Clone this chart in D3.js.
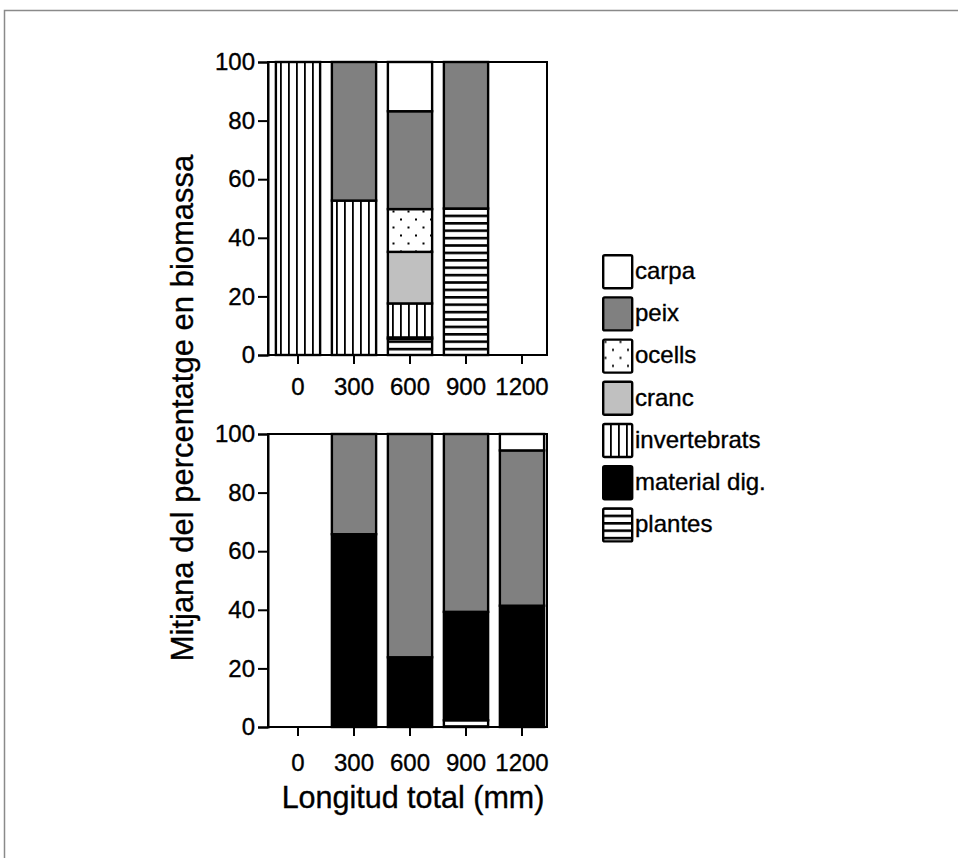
<!DOCTYPE html>
<html>
<head>
<meta charset="utf-8">
<script src="https://cdn.jsdelivr.net/npm/d3@7"></script>
<style>
  html, body { margin: 0; padding: 0; background: #fff; }
  svg { display: block; font-family: "Liberation Sans", Arial, sans-serif; }
  .lbl { stroke: #000; stroke-width: 0.35px; fill: #000; }
</style>
</head>
<body>
<svg id="chart" width="958" height="858"></svg>
<script>
// Length classes (mm)
const categories = ["0", "300", "600", "900", "1200"];

// Diet components, bottom of the stack first
const stackKeys = ["plantes", "material", "invertebrats", "cranc", "ocells", "peix", "carpa"];

// Legend order (top to bottom) and labels
const legendKeys = ["carpa", "peix", "ocells", "cranc", "invertebrats", "material", "plantes"];
const legendLabels = ["carpa", "peix", "ocells", "cranc", "invertebrats", "material dig.", "plantes"];

// Upper panel: mean biomass percentage per length class
const topCarpa        = [0, 0,    16.8, 0,  0];
const topPeix         = [0, 47.3, 33.4, 50, 0];
const topOcells       = [0, 0,    14.6, 0,  0];
const topCranc        = [0, 0,    17.6, 0,  0];
const topInvertebrats = [100, 52.7, 11.6, 0, 0];
const topMaterial     = [0, 0,    0.5,  0,  0];
const topPlantes      = [0, 0,    5.5,  50, 0];

// Lower panel
const botCarpa        = [0, 0,    0,    0,    5.6];
const botPeix         = [0, 34.2, 76.2, 60.7, 53.0];
const botOcells       = [0, 0,    0,    0,    0];
const botCranc        = [0, 0,    0,    0,    0];
const botInvertebrats = [0, 0,    0,    0,    0];
const botMaterial     = [0, 65.8, 23.8, 37.0, 41.4];
const botPlantes      = [0, 0,    0,    2.3,  0];

const yTicks = [0, 20, 40, 60, 80, 100];

function buildRows(series) {
  return categories.map((c, i) => {
    const row = { cat: c };
    stackKeys.forEach(k => { row[k] = series[k][i]; });
    return row;
  });
}

const topRows = buildRows({
  carpa: topCarpa, peix: topPeix, ocells: topOcells, cranc: topCranc,
  invertebrats: topInvertebrats, material: topMaterial, plantes: topPlantes
});
const botRows = buildRows({
  carpa: botCarpa, peix: botPeix, ocells: botOcells, cranc: botCranc,
  invertebrats: botInvertebrats, material: botMaterial, plantes: botPlantes
});

const svg = d3.select("#chart");

// Outer border
svg.append("rect")
  .attr("x", 4.5).attr("y", 10.5)
  .attr("width", 1200).attr("height", 1200)
  .attr("fill", "none").attr("stroke", "#8a8a8a").attr("stroke-width", 1.5);

// Fill patterns
const defs = svg.append("defs");

const pInv = defs.append("pattern").attr("id", "pat-invertebrats")
  .attr("patternUnits", "userSpaceOnUse").attr("width", 8).attr("height", 8);
pInv.append("rect").attr("width", 8).attr("height", 8).attr("fill", "#fff");
pInv.append("rect").attr("x", 0).attr("y", 0).attr("width", 1.8).attr("height", 8).attr("fill", "#000");

const pPl = defs.append("pattern").attr("id", "pat-plantes")
  .attr("patternUnits", "userSpaceOnUse").attr("width", 8).attr("height", 7.4);
pPl.append("rect").attr("width", 8).attr("height", 7.4).attr("fill", "#fff");
pPl.append("rect").attr("x", 0).attr("y", 0).attr("width", 8).attr("height", 2.6).attr("fill", "#000");

const pOc = defs.append("pattern").attr("id", "pat-ocells")
  .attr("patternUnits", "userSpaceOnUse").attr("width", 15).attr("height", 16);
pOc.append("rect").attr("width", 15).attr("height", 16).attr("fill", "#fff");
pOc.append("rect").attr("x", 2.5).attr("y", 2.5).attr("width", 2).attr("height", 2).attr("fill", "#000");
pOc.append("rect").attr("x", 10).attr("y", 10.5).attr("width", 2).attr("height", 2).attr("fill", "#000");

const fills = {
  carpa: "#ffffff",
  peix: "#808080",
  ocells: "url(#pat-ocells)",
  cranc: "#c0c0c0",
  invertebrats: "url(#pat-invertebrats)",
  material: "#000000",
  plantes: "url(#pat-plantes)"
};

const x = d3.scaleBand()
  .domain(categories)
  .range([270, 550])
  .paddingInner(0.21)
  .paddingOuter(0.105);

const stack = d3.stack().keys(stackKeys);

function drawPanel(rows, yRange, labelPad) {
  const y = d3.scaleLinear().domain([0, 100]).range(yRange);
  const g = svg.append("g");
  const x0 = 268, x1 = 547;

  const layers = stack(rows);
  layers.forEach(layer => {
    g.append("g").selectAll("rect")
      .data(layer.filter(d => d[1] - d[0] > 0))
      .join("rect")
      .attr("x", d => x(d.data.cat))
      .attr("width", x.bandwidth())
      .attr("y", d => y(d[1]))
      .attr("height", d => y(d[0]) - y(d[1]))
      .attr("fill", fills[layer.key])
      .attr("stroke", "#000")
      .attr("stroke-width", 2.4);
  });

  // Plot frame
  g.append("rect")
    .attr("x", x0).attr("y", y(100))
    .attr("width", x1 - x0).attr("height", y(0) - y(100))
    .attr("fill", "none").attr("stroke", "#000").attr("stroke-width", 2);

  const yAxis = g.append("g")
    .attr("transform", `translate(${x0},0)`)
    .call(d3.axisLeft(y).tickValues(yTicks).tickSize(10).tickPadding(3));
  yAxis.select(".domain").attr("stroke-width", 2);
  yAxis.selectAll(".tick line").attr("stroke-width", 2);
  yAxis.selectAll(".tick text")
    .attr("class", "lbl")
    .attr("font-size", 24)
    .attr("font-family", "Liberation Sans, Arial, sans-serif");

  const xAxis = g.append("g")
    .attr("transform", `translate(0,${y(0)})`)
    .call(d3.axisBottom(x).tickSize(9).tickPadding(labelPad));
  xAxis.select(".domain").remove();
  xAxis.selectAll(".tick line").attr("stroke-width", 2);
  xAxis.selectAll(".tick text")
    .attr("class", "lbl")
    .attr("font-size", 24)
    .attr("font-family", "Liberation Sans, Arial, sans-serif");
}

drawPanel(topRows, [355, 62], 14);
drawPanel(botRows, [727, 434], 18);

// Axis titles
svg.append("text")
  .attr("class", "lbl")
  .attr("transform", "translate(193,408) rotate(-90)")
  .attr("text-anchor", "middle")
  .attr("font-size", 31)
  .text("Mitjana del percentatge en biomassa");

svg.append("text")
  .attr("class", "lbl")
  .attr("x", 413).attr("y", 808)
  .attr("text-anchor", "middle")
  .attr("font-size", 30.5)
  .text("Longitud total (mm)");

// Legend
const legend = svg.append("g").attr("transform", "translate(602,254)");
const rowStep = 42.2;
legendKeys.forEach((k, i) => {
  const row = legend.append("g").attr("transform", `translate(0,${i * rowStep})`);
  row.append("rect")
    .attr("x", 1.2).attr("y", 1.2)
    .attr("width", 29).attr("height", 33)
    .attr("rx", 1.5)
    .attr("fill", fills[k])
    .attr("stroke", "#000").attr("stroke-width", 2.4);
  row.append("text")
    .attr("class", "lbl")
    .attr("x", 33).attr("y", 25)
    .attr("font-size", 24)
    .text(legendLabels[i]);
});
</script>
</body>
</html>
